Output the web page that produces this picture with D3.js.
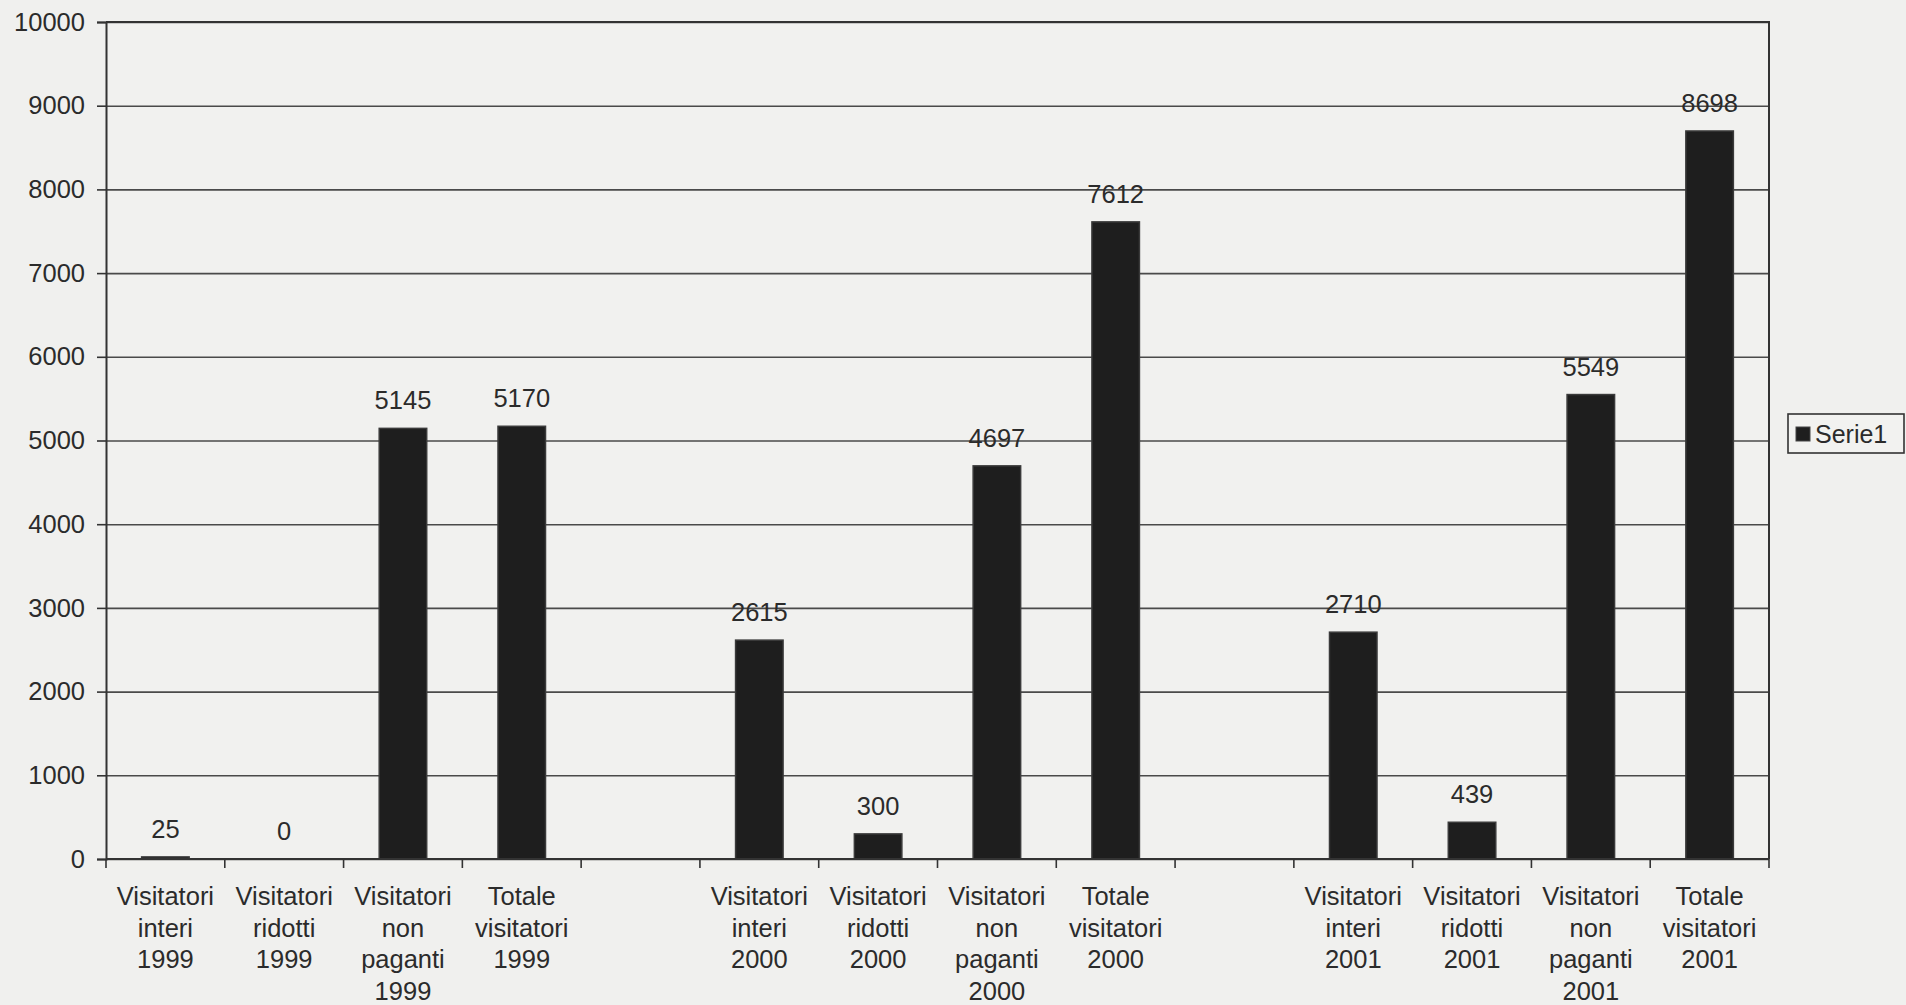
<!DOCTYPE html>
<html>
<head>
<meta charset="utf-8">
<script src="https://cdn.jsdelivr.net/npm/d3@7"></script>
<style>
  html, body { margin: 0; padding: 0; background: #f0f0ee; }
  svg { display: block; }
  text { font-family: "Liberation Sans", Arial, sans-serif; fill: #2b2b2b; }
</style>
</head>
<body>
<svg id="chart" width="1906" height="1005"></svg>
<script>
// ---- data ----
const categories = [
  ["Visitatori", "interi", "1999"],
  ["Visitatori", "ridotti", "1999"],
  ["Visitatori", "non", "paganti", "1999"],
  ["Totale", "visitatori", "1999"],
  [],
  ["Visitatori", "interi", "2000"],
  ["Visitatori", "ridotti", "2000"],
  ["Visitatori", "non", "paganti", "2000"],
  ["Totale", "visitatori", "2000"],
  [],
  ["Visitatori", "interi", "2001"],
  ["Visitatori", "ridotti", "2001"],
  ["Visitatori", "non", "paganti", "2001"],
  ["Totale", "visitatori", "2001"]
];
const values = [25, 0, 5145, 5170, null, 2615, 300, 4697, 7612, null, 2710, 439, 5549, 8698];
const yTicks = [0, 1000, 2000, 3000, 4000, 5000, 6000, 7000, 8000, 9000, 10000];
const seriesName = "Serie1";

// ---- layout ----
const svg = d3.select("#chart");
const pLeft = 106, pRight = 1769, pTop = 22, pBottom = 859;

const x = d3.scaleBand()
  .domain(d3.range(categories.length))
  .range([pLeft, pRight])
  .paddingInner(0.6)
  .paddingOuter(0.3);
const step = x.step();

const y = d3.scaleLinear().domain([0, 10000]).range([pBottom, pTop]);

// plot background
svg.append("rect")
  .attr("x", pLeft).attr("y", pTop)
  .attr("width", pRight - pLeft).attr("height", pBottom - pTop)
  .attr("fill", "#f1f1ef");

// gridlines
const grid = svg.append("g")
  .attr("transform", `translate(${pLeft},0)`)
  .call(d3.axisLeft(y).tickValues(yTicks).tickSize(-(pRight - pLeft)).tickFormat(""));
grid.select(".domain").remove();
grid.selectAll("line").attr("stroke", "#4a4a4a").attr("stroke-width", 1.6);

// frame (top/right)
svg.append("path")
  .attr("d", `M${pLeft},${pTop}H${pRight}V${pBottom}`)
  .attr("fill", "none").attr("stroke", "#333").attr("stroke-width", 2);

// bars
const data = values.map((v, i) => ({ i, v })).filter(d => d.v !== null);
svg.append("g").selectAll("rect")
  .data(data)
  .join("rect")
  .attr("x", d => x(d.i))
  .attr("width", x.bandwidth())
  .attr("y", d => y(d.v))
  .attr("height", d => y(0) - y(d.v))
  .attr("fill", "#1e1e1e")
  .attr("stroke", "#3a3a3a")
  .attr("stroke-width", 1.5);

// value labels
svg.append("g").selectAll("text")
  .data(data)
  .join("text")
  .attr("x", d => x(d.i) + x.bandwidth() / 2)
  .attr("y", d => y(d.v) - 19)
  .attr("text-anchor", "middle")
  .attr("font-size", 25.5)
  .text(d => d.v);

// y axis
const yAxis = svg.append("g")
  .attr("transform", `translate(${pLeft},0)`)
  .call(d3.axisLeft(y).tickValues(yTicks).tickSize(9).tickPadding(12).tickFormat(d3.format("d")));
yAxis.select(".domain").attr("stroke", "#333").attr("stroke-width", 2);
yAxis.selectAll("line").attr("stroke", "#333").attr("stroke-width", 1.6);
yAxis.selectAll("text").attr("font-size", 25.5).attr("fill", "#2b2b2b")
  .style("font-family", "'Liberation Sans', Arial, sans-serif");

// x axis line
svg.append("line")
  .attr("x1", pLeft).attr("x2", pRight)
  .attr("y1", y(0)).attr("y2", y(0))
  .attr("stroke", "#333").attr("stroke-width", 2);

// x ticks at category boundaries
const bounds = d3.range(categories.length + 1).map(i => x.range()[0] + i * step);
svg.append("g").selectAll("line")
  .data(bounds)
  .join("line")
  .attr("x1", d => d).attr("x2", d => d)
  .attr("y1", y(0)).attr("y2", y(0) + 9)
  .attr("stroke", "#333").attr("stroke-width", 1.6);

// x category labels
const lab = svg.append("g").selectAll("text")
  .data(categories.map((c, i) => ({ c, i })))
  .join("text")
  .attr("x", d => x(d.i) + x.bandwidth() / 2)
  .attr("y", 905)
  .attr("text-anchor", "middle")
  .attr("font-size", 25.5);
lab.selectAll("tspan")
  .data(d => d.c.map((t, k) => ({ t, k, cx: x(d.i) + x.bandwidth() / 2 })))
  .join("tspan")
  .attr("x", d => d.cx)
  .attr("dy", d => d.k === 0 ? 0 : 31.5)
  .text(d => d.t);

// legend
const lg = svg.append("g").attr("transform", "translate(1788,414)");
lg.append("rect").attr("width", 116).attr("height", 39)
  .attr("fill", "#f2f2f0").attr("stroke", "#333").attr("stroke-width", 1.6);
lg.append("rect").attr("x", 8).attr("y", 13).attr("width", 14).attr("height", 14)
  .attr("fill", "#1e1e1e").attr("stroke", "#444").attr("stroke-width", 1);
lg.append("text").attr("x", 27).attr("y", 29).attr("font-size", 25).text(seriesName);
</script>
</body>
</html>
